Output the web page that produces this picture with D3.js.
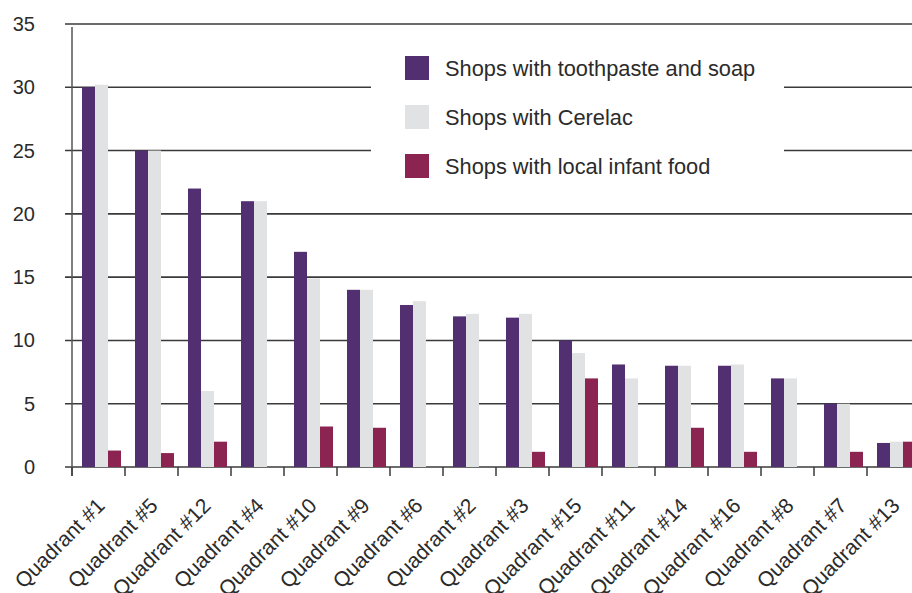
<!DOCTYPE html>
<html>
<head>
<meta charset="utf-8">
<script src="https://cdn.jsdelivr.net/npm/d3@7"></script>
<style>
  body { margin: 0; background: #fff; }
  svg { display: block; font-family: "Liberation Sans", Arial, Helvetica, sans-serif; }
</style>
</head>
<body>
<svg id="chart" width="912" height="593"></svg>
<script>
var quadrants = ["Quadrant #1", "Quadrant #5", "Quadrant #12", "Quadrant #4", "Quadrant #10",
    "Quadrant #9", "Quadrant #6", "Quadrant #2", "Quadrant #3", "Quadrant #15", "Quadrant #11",
    "Quadrant #14", "Quadrant #16", "Quadrant #8", "Quadrant #7", "Quadrant #13"];
var toothpaste = [30, 25, 22, 21, 17, 14, 12.8, 11.9, 11.8, 10, 8.1, 8, 8, 7, 5, 1.9];
var cerelac = [30.2, 25, 6, 21, 14.9, 14, 13.1, 12.1, 12.1, 9, 7, 8, 8.1, 7, 5, 2];
var localFood = [1.3, 1.1, 2, 0, 3.2, 3.1, 0, 0, 1.2, 7, 0, 3.1, 1.2, 0, 1.2, 2];
var seriesNames = ["Shops with toothpaste and soap", "Shops with Cerelac", "Shops with local infant food"];
var colors = ["#512f70", "#e1e2e4", "#8b2450"];
var yTicks = [0, 5, 10, 15, 20, 25, 30, 35];

function createChart() {
    var svg = d3.select("#chart");
    var left = 72, bottom = 467, top = 24;

    var x = d3.scaleBand()
        .domain(quadrants)
        .range([left, left + 53 * quadrants.length]);

    var x1 = d3.scaleBand()
        .domain(d3.range(3))
        .range([10, 49]);

    var y = d3.scaleLinear()
        .domain([0, 35])
        .range([bottom, top]);

    var series = [toothpaste, cerelac, localFood];

    // gridlines
    svg.append("g")
        .selectAll("line")
        .data(yTicks)
        .enter()
        .append("line")
        .attr("x1", left - 7)
        .attr("x2", 912)
        .attr("y1", function(d) { return y(d); })
        .attr("y2", function(d) { return y(d); })
        .attr("stroke", "#3a3a3a")
        .attr("stroke-width", 1.6);

    // y labels
    svg.append("g")
        .selectAll("text")
        .data(yTicks)
        .enter()
        .append("text")
        .attr("x", 35)
        .attr("y", function(d) { return y(d) + 7; })
        .attr("text-anchor", "end")
        .attr("font-size", 20)
        .attr("fill", "#2b2b2b")
        .text(function(d) { return d; });

    // bars
    svg.append("g")
        .selectAll("g")
        .data(quadrants)
        .enter()
        .append("g")
        .attr("transform", function(d) { return "translate(" + x(d) + ",0)"; })
        .selectAll("rect")
        .data(function(d, i) { return series.map(function(s, j) { return {j: j, v: s[i]}; }); })
        .enter()
        .append("rect")
        .attr("x", function(d) { return x1(d.j); })
        .attr("width", x1.bandwidth())
        .attr("y", function(d) { return y(d.v); })
        .attr("height", function(d) { return bottom - y(d.v); })
        .attr("fill", function(d) { return colors[d.j]; });

    // y axis line
    svg.append("line")
        .attr("x1", left).attr("x2", left)
        .attr("y1", 27).attr("y2", bottom + 9)
        .attr("stroke", "#555")
        .attr("stroke-width", 1.5);

    // x ticks
    svg.append("g")
        .selectAll("line")
        .data(quadrants)
        .enter()
        .append("line")
        .attr("x1", function(d) { return x(d); })
        .attr("x2", function(d) { return x(d); })
        .attr("y1", bottom)
        .attr("y2", bottom + 9)
        .attr("stroke", "#3a3a3a")
        .attr("stroke-width", 1.5);

    // x labels
    svg.append("g")
        .selectAll("text")
        .data(quadrants)
        .enter()
        .append("text")
        .attr("text-anchor", "end")
        .attr("font-size", 21)
        .attr("fill", "#2b2b2b")
        .attr("transform", function(d) {
            return "translate(" + (x(d) + 34) + "," + (bottom + 40) + ") rotate(-45)";
        })
        .text(function(d) { return d; });

    // legend
    var legend = svg.append("g");
    legend.append("rect")
        .attr("x", 371).attr("y", 36)
        .attr("width", 413).attr("height", 160)
        .attr("fill", "#fff");

    var items = legend.selectAll("g")
        .data(seriesNames)
        .enter()
        .append("g")
        .attr("transform", function(d, i) { return "translate(405," + (56 + i * 49) + ")"; });

    items.append("rect")
        .attr("width", 24)
        .attr("height", 24)
        .attr("fill", function(d, i) { return colors[i]; });

    items.append("text")
        .attr("x", 40)
        .attr("y", 19.5)
        .attr("font-size", 21.8)
        .attr("fill", "#2b2b2b")
        .text(function(d) { return d; });
}

createChart();
</script>
</body>
</html>
